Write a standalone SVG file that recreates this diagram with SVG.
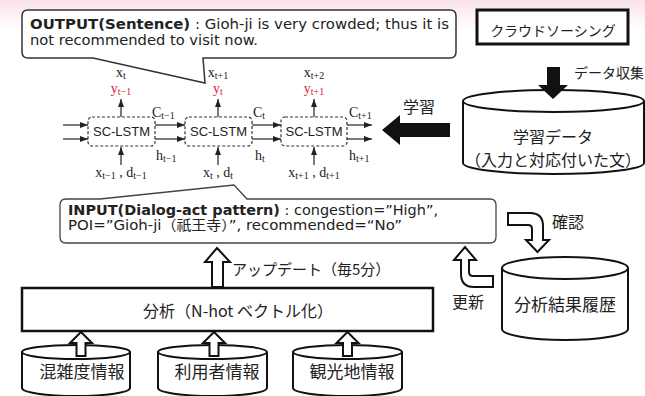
<svg xmlns="http://www.w3.org/2000/svg" width="645" height="396" viewBox="0 0 645 396">
<defs>
<linearGradient id="bg" x1="0" y1="0" x2="0" y2="1">
<stop offset="0" stop-color="#fbe2ea"/>
<stop offset="1" stop-color="#ffffff"/>
</linearGradient>
<marker id="ah" viewBox="0 0 8 6" refX="8" refY="3" markerWidth="8" markerHeight="6" markerUnits="userSpaceOnUse" orient="auto">
<path d="M0,0 L8,3 L0,6 Z" fill="#222"/>
</marker>
<style>
.sans{font-family:"DejaVu Sans","Noto Sans CJK JP",sans-serif;font-size:14px;fill:#222}
.jp{font-family:"Noto Sans CJK JP","Noto Sans",sans-serif;fill:#222}
.ser{font-family:"Liberation Serif","Times New Roman",serif;font-size:14px;fill:#222}
.red{fill:#e0203c}
.sub{font-size:10px}
.lstm{fill:#fff;stroke:#333;stroke-width:1.2;stroke-dasharray:3 2}
.ln{stroke:#222;stroke-width:1.2;fill:none;marker-end:url(#ah)}
.cyl{fill:#fff;stroke:#111;stroke-width:2}
.hol{fill:#fff;stroke:#111;stroke-width:2;stroke-linejoin:miter}
</style>
</defs>
<rect x="0" y="0" width="645" height="396" fill="#fff"/>
<rect x="0" y="0" width="645" height="30" fill="url(#bg)"/>

<g id="output">
<path d="M28,10 H450 Q456,10 456,16 V52 Q456,58 450,58 H203 L205,83 L93,58 H28 Q22,58 22,52 V16 Q22,10 28,10 Z" fill="#fff" stroke="#333" stroke-width="1.5"/>
<text class="sans" x="30" y="29" textLength="419" lengthAdjust="spacingAndGlyphs"><tspan font-weight="bold">OUTPUT(Sentence)</tspan> : Gioh-ji is very crowded; thus it is</text>
<text class="sans" x="30" y="45" textLength="228" lengthAdjust="spacingAndGlyphs">not recommended to visit now.</text>
</g>

<g id="crowdsourcing">
<rect x="477" y="10" width="151" height="34" fill="#fff" stroke="#111" stroke-width="3"/>
<text class="jp" x="553" y="36" font-size="14" text-anchor="middle">クラウドソーシング</text>
</g>

<g id="training-data">
<path class="cyl" d="M463,101 V163 A90.5,11 0 0 0 644,163 V101"/>
<ellipse class="cyl" cx="553.5" cy="101" rx="90.5" ry="11"/>
<text class="jp" x="553" y="143" font-size="16" text-anchor="middle">学習データ</text>
<text class="jp" x="553" y="166" font-size="16" text-anchor="middle">（入力と対応付いた文）</text>
</g>

<g id="lstm1">
<rect class="lstm" x="88" y="117" width="67" height="29" rx="4"/>
<text x="121.5" y="136" text-anchor="middle" font-family="Liberation Sans,Arial,sans-serif" font-size="13" fill="#222">SC-LSTM</text>
</g>
<g id="lstm2">
<rect class="lstm" x="185" y="117" width="67" height="29" rx="4"/>
<text x="218.5" y="136" text-anchor="middle" font-family="Liberation Sans,Arial,sans-serif" font-size="13" fill="#222">SC-LSTM</text>
</g>
<g id="lstm3">
<rect class="lstm" x="281" y="117" width="66" height="29" rx="4"/>
<text x="314" y="136" text-anchor="middle" font-family="Liberation Sans,Arial,sans-serif" font-size="13" fill="#222">SC-LSTM</text>
</g>

<g id="lstm-labels">
<text class="ser" x="121" y="77" text-anchor="middle">x<tspan class="sub" dy="2">t</tspan></text>
<text class="ser" x="218" y="77" text-anchor="middle">x<tspan class="sub" dy="2">t+1</tspan></text>
<text class="ser" x="314" y="77" text-anchor="middle">x<tspan class="sub" dy="2">t+2</tspan></text>
<text class="ser red" x="121" y="93" text-anchor="middle" font-size="15">y<tspan class="sub" dy="2">t−1</tspan></text>
<text class="ser red" x="218" y="93" text-anchor="middle" font-size="15">y<tspan class="sub" dy="2">t</tspan></text>
<text class="ser red" x="314" y="93" text-anchor="middle" font-size="15">y<tspan class="sub" dy="2">t+1</tspan></text>
<text class="ser" x="121" y="177" text-anchor="middle">x<tspan class="sub" dy="2">t−1</tspan><tspan dy="-2"> , d</tspan><tspan class="sub" dy="2">t−1</tspan></text>
<text class="ser" x="218" y="177" text-anchor="middle">x<tspan class="sub" dy="2">t</tspan><tspan dy="-2"> , d</tspan><tspan class="sub" dy="2">t</tspan></text>
<text class="ser" x="314" y="177" text-anchor="middle">x<tspan class="sub" dy="2">t+1</tspan><tspan dy="-2"> , d</tspan><tspan class="sub" dy="2">t+1</tspan></text>
<text class="ser" x="152" y="117" font-size="15">C<tspan class="sub" dy="2">t−1</tspan></text>
<text class="ser" x="156" y="160" font-size="15">h<tspan class="sub" dy="2">t−1</tspan></text>
<text class="ser" x="253" y="117" font-size="15">C<tspan class="sub" dy="2">t</tspan></text>
<text class="ser" x="255" y="160" font-size="15">h<tspan class="sub" dy="2">t</tspan></text>
<text class="ser" x="349" y="117" font-size="15">C<tspan class="sub" dy="2">t+1</tspan></text>
<text class="ser" x="349" y="160" font-size="15">h<tspan class="sub" dy="2">t+1</tspan></text>
</g>

<g id="input">
<path d="M66,199 H100 L234,185 L247,199 H490 Q496,199 496,205 V237 Q496,243 490,243 H66 Q60,243 60,237 V205 Q60,199 66,199 Z" fill="#fff" stroke="#444" stroke-width="1.3"/>
<text class="sans" x="68" y="215" textLength="370" lengthAdjust="spacingAndGlyphs"><tspan font-weight="bold">INPUT(Dialog-act pattern)</tspan> : congestion=”High”,</text>
<text class="sans" x="68" y="230" textLength="334" lengthAdjust="spacingAndGlyphs">POI=”Gioh-ji（祇王寺）”, recommended=“No”</text>
</g>

<g id="analysis">
<rect x="22" y="288" width="411" height="43" fill="#fff" stroke="#111" stroke-width="2.5"/>
<text class="jp" x="238" y="317" font-size="16" text-anchor="middle">分析（N-hot ベクトル化）</text>
</g>

<g id="history">
<path class="cyl" d="M502,268 V329 A63,11 0 0 0 628,329 V268"/>
<ellipse class="cyl" cx="565" cy="268" rx="63" ry="11"/>
<text class="jp" x="565" y="311" font-size="17" text-anchor="middle">分析結果履歴</text>
</g>

<g id="congestion">
<path class="cyl" d="M22,352 V388 A54,8 0 0 0 130,388 V352"/>
<ellipse class="cyl" cx="76" cy="352" rx="54" ry="7"/>
<text class="jp" x="82" y="378" font-size="17" text-anchor="middle">混雑度情報</text>
</g>
<g id="user">
<path class="cyl" d="M158,352 V388 A54.5,8 0 0 0 267,388 V352"/>
<ellipse class="cyl" cx="212.5" cy="352" rx="54.5" ry="7"/>
<text class="jp" x="217" y="378" font-size="17" text-anchor="middle">利用者情報</text>
</g>
<g id="sightseeing">
<path class="cyl" d="M293,352 V388 A54.5,8 0 0 0 402,388 V352"/>
<ellipse class="cyl" cx="347.5" cy="352" rx="54.5" ry="7"/>
<text class="jp" x="352" y="378" font-size="17" text-anchor="middle">観光地情報</text>
</g>

<g id="connectors">
<line class="ln" x1="63" y1="125" x2="88" y2="125"/>
<line class="ln" x1="63" y1="139" x2="88" y2="139"/>
<line class="ln" x1="155" y1="125" x2="185" y2="125"/>
<line class="ln" x1="155" y1="139" x2="185" y2="139"/>
<line class="ln" x1="252" y1="125" x2="281" y2="125"/>
<line class="ln" x1="252" y1="139" x2="281" y2="139"/>
<line class="ln" x1="347" y1="125" x2="372" y2="125"/>
<line class="ln" x1="347" y1="139" x2="372" y2="139"/>
<line class="ln" x1="121" y1="117" x2="121" y2="99"/>
<line class="ln" x1="218" y1="117" x2="218" y2="99"/>
<line class="ln" x1="314" y1="117" x2="314" y2="99"/>
<line class="ln" x1="121" y1="165" x2="121" y2="147"/>
<line class="ln" x1="218" y1="165" x2="218" y2="147"/>
<line class="ln" x1="314" y1="165" x2="314" y2="147"/>
<polygon points="547,67 560,67 560,85 568,85 553,99 538,85 547,85" fill="#111"/>
<text class="jp" x="574" y="78" font-size="14">データ収集</text>
<polygon points="382,130 400,115 400,123 450,123 450,137 400,137 400,145" fill="#111"/>
<text class="jp" x="403" y="113" font-size="16">学習</text>
<polygon class="hol" points="217,248 230,262 223,262 223,287 212,287 212,262 205,262"/>
<text class="jp" x="232" y="275" font-size="15">アップデート（毎5分）</text>
<path class="hol" d="M508,213 H530 Q543,213 543,226 V240 H549 L537.5,252 L526,240 H532 V229 Q532,225 528,225 H508 Z"/>
<text class="jp" x="552" y="228" font-size="16">確認</text>
<path class="hol" d="M493,276 H473 Q469,276 469,272 V260 H476 L465,247 L454,260 H461 V274 Q461,287 474,287 H493 Z"/>
<text class="jp" x="452" y="308" font-size="16">更新</text>
<polygon class="hol" points="81,332 92,343 85.5,343 85.5,356 76.5,356 76.5,343 70,343"/>
<polygon class="hol" points="214,332 225,343 218.5,343 218.5,356 209.5,356 209.5,343 203,343"/>
<polygon class="hol" points="347.5,332 358.5,343 352,343 352,356 343,356 343,343 336.5,343"/>
</g>
</svg>
